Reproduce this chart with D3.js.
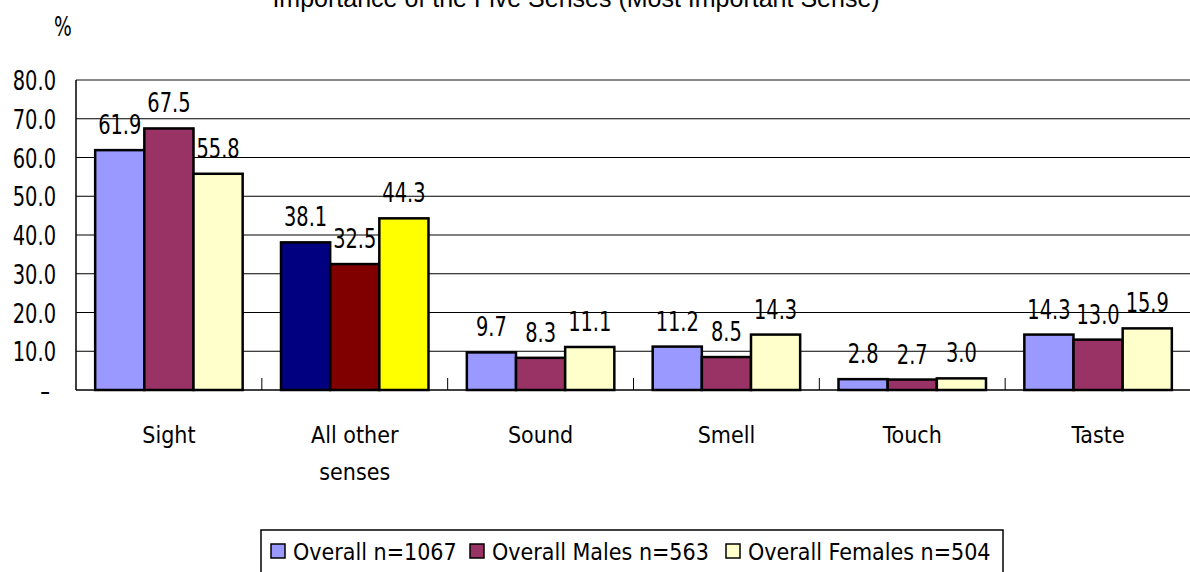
<!DOCTYPE html>
<html>
<head>
<meta charset="utf-8">
<script src="https://cdn.jsdelivr.net/npm/d3@7"></script>
<style>
  body { margin: 0; background: #fff; }
  text { font-family: "DejaVu Sans Condensed", "DejaVu Sans", sans-serif; fill: #000; }
</style>
</head>
<body>
<svg id="chart"></svg>
<script>
// chart data
const categories = ['Sight', 'All other senses', 'Sound', 'Smell', 'Touch', 'Taste']
const seriesNames = ['Overall n=1067', 'Overall Males n=563', 'Overall Females n=504']
const overall = [61.9, 38.1, 9.7, 11.2, 2.8, 14.3]
const males = [67.5, 32.5, 8.3, 8.5, 2.7, 13.0]
const females = [55.8, 44.3, 11.1, 14.3, 3.0, 15.9]
const yTicks = [0, 10, 20, 30, 40, 50, 60, 70, 80]

const colors = ['#9999ff', '#993366', '#ffffcc']
const highlight = ['#000080', '#800000', '#ffff00'] // "All other senses" group

var width = 1190,
  height = 572,
  margin = { top: 80, right: -1, bottom: 182, left: 76 }

var svg = d3.select('#chart').attr('width', width).attr('height', height)

var x = d3
  .scaleBand()
  .domain(categories)
  .range([margin.left, width - margin.right])

var x1 = d3
  .scaleBand()
  .domain(d3.range(3))
  .range([0, x.bandwidth()])
  .paddingOuter(0.39)

var y = d3
  .scaleLinear()
  .domain([0, 80])
  .range([height - margin.bottom, margin.top])

// narrow text: squeeze horizontally around its anchor point
function narrowText(parent, px, py, str, size, anchor) {
  return parent
    .append('text')
    .attr('transform', 'translate(' + px + ',' + py + ') scale(0.8,1)')
    .attr('text-anchor', anchor)
    .style('font-size', size + 'px')
    .text(str)
}

// title (cut at the top like the original)
svg
  .append('text')
  .attr('x', 576)
  .attr('y', 7)
  .attr('text-anchor', 'middle')
  .style('font-family', '"Liberation Sans", Arial, sans-serif')
  .style('font-size', '25px')
  .text('Importance of the Five Senses (Most Important Sense)')

narrowText(svg, 63, 36, '%', 26, 'middle')

// gridlines
svg
  .append('g')
  .selectAll('line')
  .data(yTicks.filter(d => d > 0))
  .enter()
  .append('line')
  .attr('x1', margin.left)
  .attr('x2', width)
  .attr('y1', d => y(d))
  .attr('y2', d => y(d))
  .attr('stroke', d => (d === 80 ? '#888' : '#000'))
  .attr('stroke-width', d => (d === 80 ? 2 : 1))

// y axis labels
var yLabels = svg.append('g')
yTicks.forEach(function(d) {
  narrowText(
    yLabels,
    d === 0 ? 50 : 56,
    y(d) + 10,
    d === 0 ? '–' : d3.format('.1f')(d),
    27,
    'end'
  )
})

// axis lines
svg
  .append('line')
  .attr('x1', margin.left)
  .attr('x2', margin.left)
  .attr('y1', y(80))
  .attr('y2', y(0))
  .attr('stroke', '#000')
  .attr('stroke-width', 1.5)

svg
  .append('line')
  .attr('x1', margin.left)
  .attr('x2', width)
  .attr('y1', y(0))
  .attr('y2', y(0))
  .attr('stroke', '#000')
  .attr('stroke-width', 1.5)

// category separator ticks
svg
  .append('g')
  .selectAll('line')
  .data(categories.slice(1))
  .enter()
  .append('line')
  .attr('x1', d => x(d))
  .attr('x2', d => x(d))
  .attr('y1', y(0))
  .attr('y2', y(0) - 12)
  .attr('stroke', '#000')

var series = [overall, males, females]

var groups = svg
  .append('g')
  .selectAll('g')
  .data(categories)
  .enter()
  .append('g')
  .attr('transform', d => 'translate(' + x(d) + ',0)')

groups
  .selectAll('rect')
  .data((d, ci) => series.map((s, si) => ({ ci: ci, si: si, v: s[ci] })))
  .enter()
  .append('rect')
  .attr('x', d => x1(d.si))
  .attr('width', x1.bandwidth())
  .attr('y', d => y(d.v))
  .attr('height', d => y(0) - y(d.v))
  .attr('fill', d => (d.ci === 1 ? highlight[d.si] : colors[d.si]))
  .attr('stroke', '#000')
  .attr('stroke-width', 2.5)

groups.each(function(d, ci) {
  var g = d3.select(this)
  series.forEach(function(s, si) {
    narrowText(
      g,
      x1(si) + x1.bandwidth() / 2,
      y(s[ci]) - 16,
      d3.format('.1f')(s[ci]),
      27,
      'middle'
    )
  })
})

// category labels
svg
  .append('g')
  .selectAll('text')
  .data(categories)
  .enter()
  .append('text')
  .attr('x', d => x(d) + x.bandwidth() / 2)
  .attr('y', 443)
  .attr('text-anchor', 'middle')
  .style('font-size', '23px')
  .each(function(d) {
    var lines = d === 'All other senses' ? ['All other', 'senses'] : [d]
    d3.select(this)
      .selectAll('tspan')
      .data(lines)
      .enter()
      .append('tspan')
      .attr('x', x(d) + x.bandwidth() / 2)
      .attr('dy', (l, i) => (i ? 37 : 0))
      .text(l => l)
  })

// legend
var legend = svg.append('g')
legend
  .append('rect')
  .attr('x', 261)
  .attr('y', 530)
  .attr('width', 742)
  .attr('height', 60)
  .attr('fill', '#fff')
  .attr('stroke', '#000')
  .attr('stroke-width', 1.5)

var legendX = [271, 470, 726]
seriesNames.forEach(function(name, i) {
  legend
    .append('rect')
    .attr('x', legendX[i])
    .attr('y', 544)
    .attr('width', 14)
    .attr('height', 14)
    .attr('fill', colors[i])
    .attr('stroke', '#000')
    .attr('stroke-width', 1.5)
  legend
    .append('text')
    .attr('x', legendX[i] + 22)
    .attr('y', 560)
    .style('font-size', '23px')
    .text(name)
})
</script>
</body>
</html>
